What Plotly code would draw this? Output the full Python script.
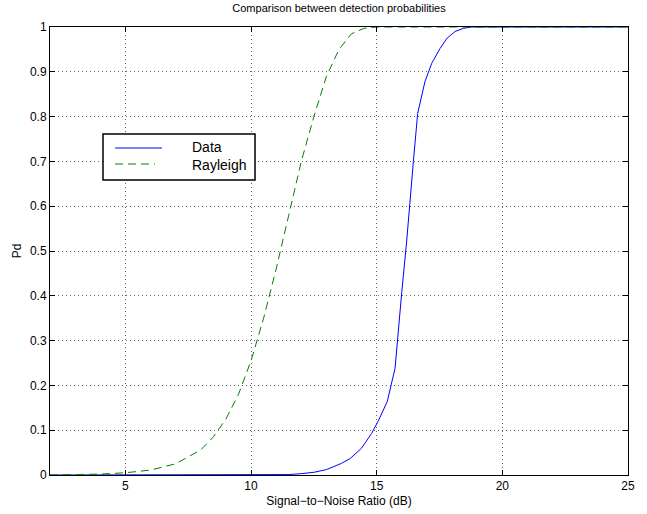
import plotly.graph_objects as go

# Data curve (measured detection probability)
data_snr = [2, 11, 11.5, 12, 12.5, 13, 13.6, 13.95, 14.4, 14.8, 15.1, 15.42, 15.73,
            16.0, 16.19, 16.46, 16.63, 16.92, 17.19, 17.52, 17.8, 18.12, 18.45, 18.78, 19.2, 25]
data_pd = [0, 0, 0.001, 0.003, 0.006, 0.012, 0.026, 0.037, 0.06, 0.093, 0.125, 0.164, 0.238,
           0.41, 0.52, 0.70, 0.807, 0.878, 0.919, 0.952, 0.975, 0.99, 0.997, 1.0, 1.0, 1.0]

# Rayleigh theoretical curve
ray_snr = [2, 3, 4, 5, 6, 7, 8, 8.5, 9, 9.5, 10, 10.5, 11, 11.5, 12, 12.5, 13, 13.5,
           14, 14.5, 15, 16, 25]
ray_pd = [0, 0.001, 0.002, 0.005, 0.011, 0.025, 0.056, 0.085, 0.125, 0.18, 0.255, 0.35,
          0.46, 0.58, 0.70, 0.80, 0.89, 0.95, 0.985, 0.997, 1.0, 1.0, 1.0]

series_names = ["Data", "Rayleigh"]
series_colors = ["rgb(0,0,255)", "rgb(0,128,0)"]
series_dash = ["solid", "8px,5px"]

x_ticks = [5, 10, 15, 20, 25]
y_ticks = [0, 0.1, 0.2, 0.3, 0.4, 0.5, 0.6, 0.7, 0.8, 0.9, 1]
y_tick_labels = ["0", "0.1", "0.2", "0.3", "0.4", "0.5", "0.6", "0.7", "0.8", "0.9", "1"]

FONT = "Liberation Sans, Arial, Helvetica, sans-serif"

fig = go.Figure()
fig.add_trace(go.Scatter(x=data_snr, y=data_pd, mode="lines", name=series_names[0],
                         line=dict(color=series_colors[0], width=1, dash=series_dash[0])))
fig.add_trace(go.Scatter(x=ray_snr, y=ray_pd, mode="lines", name=series_names[1],
                         line=dict(color=series_colors[1], width=1, dash=series_dash[1])))

axis_common = dict(
    showline=True, linecolor="black", linewidth=1, mirror="ticks",
    ticks="inside", ticklen=5, tickcolor="black", tickwidth=1,
    showgrid=True, gridcolor="rgba(0,0,0,0.6)", griddash="1px,3px", gridwidth=1,
    zeroline=False, automargin=False,
    tickfont=dict(family=FONT, size=12, color="black"),
)

# Legend drawn as a boxed key in the upper-left of the axes (MATLAB style)
shapes = [dict(type="rect", xref="paper", yref="paper",
               x0=0.0917, x1=0.3547, y0=0.6585, y1=0.7612,
               line=dict(color="black", width=1.5), fillcolor="white", layer="above")]
annotations = []
key_y = [0.7299, 0.6942]
text_y = [0.7321, 0.6920]
key_x1 = [0.1938, 0.1817]
for i in range(2):
    shapes.append(dict(type="line", xref="paper", yref="paper",
                       x0=0.1125, x1=key_x1[i], y0=key_y[i], y1=key_y[i],
                       line=dict(color=series_colors[i], width=1, dash=series_dash[i]),
                       layer="above"))
    annotations.append(dict(text=series_names[i], xref="paper", yref="paper",
                            x=0.2422, y=text_y[i], xanchor="left", yanchor="middle",
                            showarrow=False,
                            font=dict(family=FONT, size=14, color="black")))

fig.update_layout(
    width=647, height=514,
    margin=dict(l=50, r=19, t=27, b=39),
    paper_bgcolor="white", plot_bgcolor="white",
    font=dict(family=FONT, color="black"),
    title=dict(text="Comparison between detection probabilities",
               font=dict(family=FONT, size=11, color="black"),
               xref="paper", x=0.5, xanchor="center", y=0.984, yanchor="middle"),
    xaxis=dict(range=[2, 25], tickvals=x_ticks,
               title=dict(text="Signal\u2212to\u2212Noise Ratio (dB)",
                          font=dict(family=FONT, size=12), standoff=4),
               **axis_common),
    yaxis=dict(range=[0, 1], tickvals=y_ticks, ticktext=y_tick_labels,
               title=dict(text="Pd", font=dict(family=FONT, size=12), standoff=5),
               **axis_common),
    shapes=shapes,
    annotations=annotations,
    showlegend=False,
)

fig.write_html("out.html", config={"displayModeBar": False},
               post_script="document.body.style.margin='0';")
